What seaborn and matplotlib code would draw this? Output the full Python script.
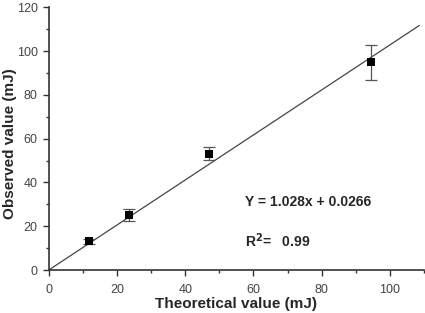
import matplotlib
matplotlib.use("Agg")
import matplotlib.pyplot as plt
import seaborn as sns
import numpy as np
import pandas as pd
from matplotlib.ticker import MultipleLocator

theoretical = [11.7, 23.5, 47.1, 94.4]
observed = [13.1, 25.2, 53.2, 94.8]
errors = [1.0, 2.7, 2.8, 7.9]
slope = 1.028
intercept = 0.0266
fit_x = [0.0, 108.6]
x_ticks = [0, 20, 40, 60, 80, 100]
y_ticks = [0, 20, 40, 60, 80, 100, 120]

sns.set_style("ticks")
plt.rcParams['font.family'] = ['Liberation Sans', 'DejaVu Sans']

fig = plt.figure(figsize=(4.25, 3.13), dpi=100)
ax = fig.add_axes([0.1146, 0.137, 0.998 - 0.1146, 0.977 - 0.137])

df = pd.DataFrame({"x": theoretical, "y": observed})
fit_df = pd.DataFrame({"x": fit_x, "y": [slope * v + intercept for v in fit_x]})

sns.lineplot(data=fit_df, x="x", y="y", ax=ax, color="#444444", linewidth=0.9)
ax.errorbar(theoretical, observed, yerr=errors, fmt="none", ecolor="#555555",
            elinewidth=0.9, capsize=4, capthick=0.9, zorder=3)
sns.scatterplot(data=df, x="x", y="y", ax=ax, marker="s", color="black",
                s=28, edgecolor="black", linewidth=0, zorder=4)

ax.set_xlim(0, 110)
ax.set_ylim(0, 120)
ax.set_xticks(x_ticks)
ax.set_yticks(y_ticks)
ax.xaxis.set_minor_locator(MultipleLocator(10))
ax.yaxis.set_minor_locator(MultipleLocator(10))
ax.tick_params(which="major", length=4, width=1.0, color="#333333",
               labelsize=9, labelcolor="#444444", direction="out", pad=4)
ax.tick_params(axis="x", which="major", pad=6)
ax.tick_params(which="minor", length=2.5, width=1.0, color="#333333", direction="out")
for sp in ["left", "bottom"]:
    ax.spines[sp].set_linewidth(1.2)
    ax.spines[sp].set_color("#333333")
sns.despine(ax=ax)

ax.set_xlabel("Theoretical value (mJ)", fontsize=11, fontweight="bold", va="center")
ax.set_ylabel("Observed value (mJ)", fontsize=11, fontweight="bold", va="center")
ax.xaxis.set_label_coords(0.5, -0.129)
ax.yaxis.set_label_coords(-0.103, 0.48)

ax.text(57.4, 31, "Y = 1.028x + 0.0266", fontsize=10, fontweight="bold",
        va="center", ha="left")
ax.text(57.4, 13.2, "R$^\\mathbf{2}$=   0.99", fontsize=10, fontweight="bold",
        va="center", ha="left")

fig.savefig("out.png", dpi=100)
